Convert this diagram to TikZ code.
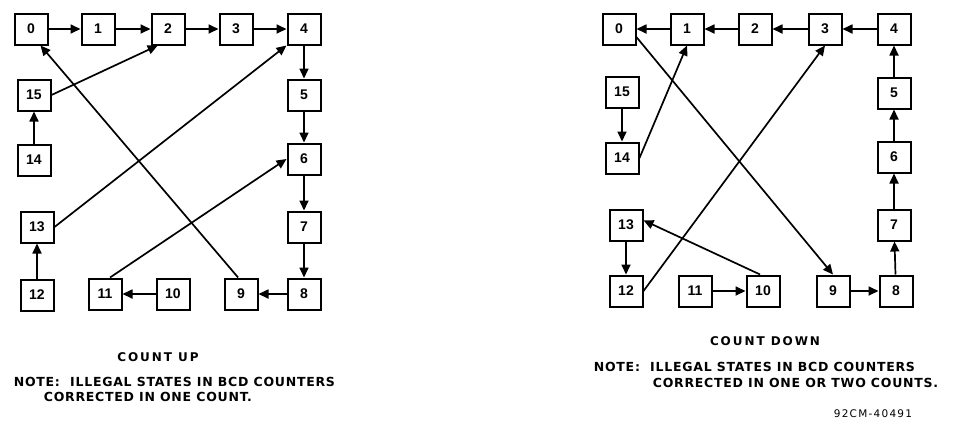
\documentclass[tikz,border=0pt]{standalone}
\usepackage{fontspec}
\setmainfont{Liberation Sans}
\newfontfamily\labelfont{DejaVu Sans}
\usetikzlibrary{arrows.meta}

\tikzset{
  state/.style={draw, line width=2pt, minimum width=33pt, minimum height=31pt,
    inner sep=0pt, font=\fontsize{14}{14}\selectfont\bfseries},
  caption/.style={font=\labelfont\addfontfeatures{LetterSpace=6}\fontsize{12.5}{13}\selectfont\bfseries, inner sep=0pt},
  title/.style={font=\labelfont\addfontfeatures{LetterSpace=16}\fontsize{12}{12}\selectfont\bfseries, inner sep=0pt},
}

\begin{document}
\begin{tikzpicture}[x=1pt, y=-1pt, line width=1.7pt,
    >={Triangle[length=10pt,width=9pt]}]
\useasboundingbox (0,0) rectangle (956,424);
\begin{scope}[name prefix = up-]
    \node[state] (0) at (31,29) {0};
    \node[state] (1) at (98,29) {1};
    \node[state] (2) at (168,29) {2};
    \node[state] (3) at (236,29) {3};
    \node[state] (4) at (304,29) {4};
    \node[state] (5) at (304,95) {5};
    \node[state] (6) at (304,159) {6};
    \node[state] (7) at (304,227) {7};
    \node[state] (8) at (304,294) {8};
    \node[state] (9) at (241,294) {9};
    \node[state] (10) at (173,294) {10};
    \node[state] (11) at (105,294) {11};
    \node[state] (12) at (37,295) {12};
    \node[state] (13) at (37,227) {13};
    \node[state] (14) at (34,160) {14};
    \node[state] (15) at (34,95) {15};
    \draw[->] (0) -- (1);
    \draw[->] (1) -- (2);
    \draw[->] (2) -- (3);
    \draw[->] (3) -- (4);
    \draw[->] (4) -- (5);
    \draw[->] (5) -- (6);
    \draw[->] (6) -- (7);
    \draw[->] (7) -- (8);
    \draw[->] (8) -- (9);
    \draw[->] (10) -- (11);
    \draw[->] (12) -- (13);
    \draw[->] (14) -- (15);
    \draw[->] (15.east) -- (2.238);
    \draw[->] (13.east) -- (4.south west);
    \draw[->] (11.73) -- (6.west);
    \draw[->] (9.100) -- (0.300);
    \node[title] (title) at (158,357) {COUNT UP};
    \node[caption, anchor=west] (note1) at (13,382) {NOTE:\ \ ILLEGAL STATES IN BCD COUNTERS};
    \node[caption, anchor=west] (note2) at (43,397) {CORRECTED IN ONE COUNT.};
\end{scope}
\begin{scope}[name prefix = down-]
    \node[state] (0) at (619,29) {0};
    \node[state] (1) at (687,29) {1};
    \node[state] (2) at (755,29) {2};
    \node[state] (3) at (825,29) {3};
    \node[state] (4) at (894,29) {4};
    \node[state] (5) at (894,93) {5};
    \node[state] (6) at (894,157) {6};
    \node[state] (7) at (894,225) {7};
    \node[state] (8) at (896,291) {8};
    \node[state] (9) at (833,291) {9};
    \node[state] (10) at (763,291) {10};
    \node[state] (11) at (695,291) {11};
    \node[state] (12) at (626,291) {12};
    \node[state] (13) at (626,225) {13};
    \node[state] (14) at (622,158) {14};
    \node[state] (15) at (622,92) {15};
    \draw[->] (1) -- (0);
    \draw[->] (2) -- (1);
    \draw[->] (3) -- (2);
    \draw[->] (4) -- (3);
    \draw[->] (5) -- (4);
    \draw[->] (6) -- (5);
    \draw[->] (7) -- (6);
    \draw[->] (8) -- (7);
    \draw[->] (9) -- (8);
    \draw[->] (11) -- (10);
    \draw[->] (13) -- (12);
    \draw[->] (15) -- (14);
    \draw[->] (14.east) -- (1.south);
    \draw[->] (12.east) -- (3.south);
    \draw[->] (10.100) -- (13.15);
    \draw[->] (0.335) -- (9.north);
    \node[title] (title) at (765,341) {COUNT DOWN};
    \node[caption, anchor=west] (note1) at (593,367) {NOTE:\ \ ILLEGAL STATES IN BCD COUNTERS};
    \node[caption, anchor=west] (note2) at (652,383) {CORRECTED IN ONE OR TWO COUNTS.};
    \node[caption, font=\labelfont\addfontfeatures{LetterSpace=12}\fontsize{10.5}{11}\selectfont, anchor=west] (code) at (833,414) {92CM-40491};
\end{scope}
\end{tikzpicture}
\end{document}
